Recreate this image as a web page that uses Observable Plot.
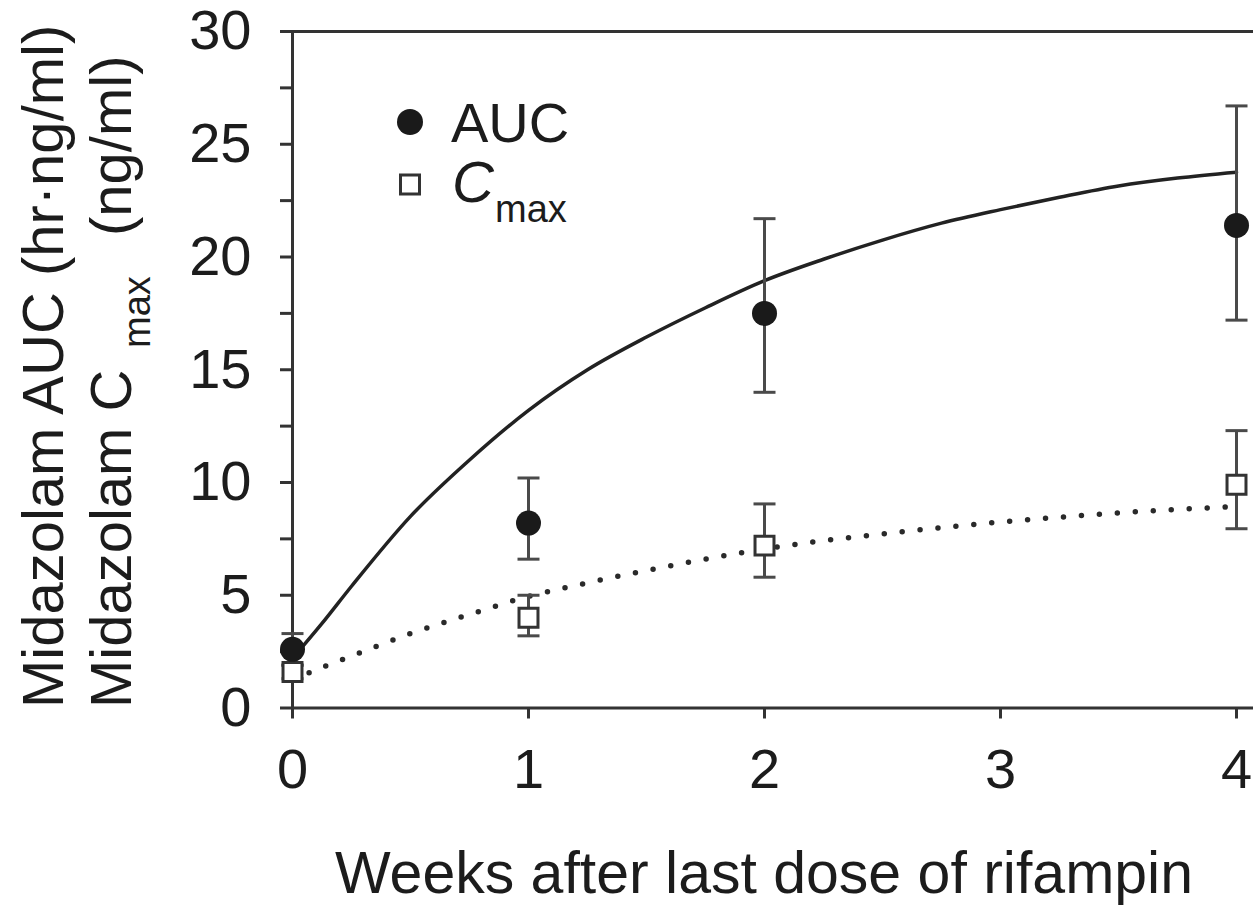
<!DOCTYPE html>
<html>
<head>
<meta charset="utf-8">
<script src="https://cdn.jsdelivr.net/npm/d3@7"></script>
<script src="https://cdn.jsdelivr.net/npm/@observablehq/plot@0.6"></script>
<style>
  html, body { margin: 0; padding: 0; background: #fff; }
  #chart { width: 1253px; height: 906px; overflow: hidden; }
</style>
</head>
<body>
<div id="chart"></div>
<script>
// ---- Data ----
const weeks = [0, 1, 2, 4];
const aucMean = [2.6, 8.2, 17.5, 21.4];
const aucLow = [1.9, 6.6, 14.0, 17.2];
const aucHigh = [3.3, 10.2, 21.7, 26.7];
const cmaxMean = [1.6, 4.0, 7.2, 9.9];
const cmaxLow = [1.3, 3.2, 5.8, 7.95];
const cmaxHigh = [1.9, 5.0, 9.05, 12.3];

const fitWeeks = [0, 0.125, 0.25, 0.5, 0.75, 1, 1.25, 1.5, 1.75, 2, 2.25, 2.5, 2.75, 3, 3.25, 3.5, 3.75, 4];
const aucFit = [2.2, 3.75, 5.4, 8.5, 11.0, 13.2, 15.0, 16.45, 17.75, 18.95, 19.9, 20.75, 21.5, 22.1, 22.65, 23.15, 23.5, 23.76];
const cmaxFit = [1.25, 1.8, 2.3, 3.3, 4.15, 4.95, 5.55, 6.1, 6.6, 7.05, 7.42, 7.72, 8.0, 8.25, 8.46, 8.65, 8.81, 8.93];

const xTicks = [0, 1, 2, 3, 4];
const yTicks = [0, 2.5, 5, 7.5, 10, 12.5, 15, 17.5, 20, 22.5, 25, 27.5, 30];
const xLabel = "Weeks after last dose of rifampin";
const yLabel1 = "Midazolam AUC (hr·ng/ml)";
const yLabel2 = ["Midazolam C", "max", "(ng/ml)"];
const legendLabels = ["AUC", "C", "max"];

// ---- Tables built from the arrays ----
const auc = weeks.map((w, i) => ({week: w, mean: aucMean[i], low: aucLow[i], high: aucHigh[i]}));
const cmax = weeks.map((w, i) => ({week: w, mean: cmaxMean[i], low: cmaxLow[i], high: cmaxHigh[i]}));
const fit = fitWeeks.map((w, i) => ({week: w, auc: aucFit[i], cmax: cmaxFit[i]}));
const caps = [...auc, ...cmax].flatMap(d => [{week: d.week, v: d.low}, {week: d.week, v: d.high}]);

const capSymbol = {
  draw(context, size) {
    const w = Math.sqrt(size / Math.PI);
    context.moveTo(-w, 0);
    context.lineTo(w, 0);
  }
};

const FONT = "'Liberation Sans', Arial, Helvetica, sans-serif";
const AX = "#333";
const TXT = "#1c1c1c";

const chart = Plot.plot({
  width: 1253,
  height: 906,
  marginLeft: 292,
  marginRight: 0,
  marginTop: 31,
  marginBottom: 198.5,
  x: {domain: [0, 4.072]},
  y: {domain: [0, 30]},
  style: {fontFamily: FONT, background: "#fff", color: TXT},
  marks: [
    Plot.axisX({ticks: xTicks, tickFormat: d => String(d), tickSize: 11, tickPadding: 29, fontSize: 56, label: null, stroke: AX, strokeWidth: 3, fill: TXT}),
    Plot.axisY({ticks: yTicks, tickFormat: d => d % 5 === 0 ? String(d) : "", tickSize: 12, tickPadding: 29, fontSize: 56, label: null, stroke: AX, strokeWidth: 3, fill: TXT}),
    Plot.ruleY([0, 30], {stroke: AX, strokeWidth: 3}),
    Plot.ruleX([0], {stroke: AX, strokeWidth: 3}),
    Plot.line(fit, {x: "week", y: "auc", curve: "monotone-x", stroke: "#222", strokeWidth: 3.5}),
    Plot.line(fit, {x: "week", y: "cmax", curve: "monotone-x", stroke: "#2a2a2a", strokeWidth: 5.5, strokeDasharray: "0 18", strokeLinecap: "round"}),
    Plot.ruleX(auc, {x: "week", y1: "low", y2: "high", stroke: "#4a4a4a", strokeWidth: 3}),
    Plot.ruleX(cmax, {x: "week", y1: "low", y2: "high", stroke: "#4a4a4a", strokeWidth: 3}),
    Plot.dot(caps, {x: "week", y: "v", symbol: capSymbol, r: 11, stroke: "#4a4a4a", strokeWidth: 3, fill: "none"}),
    Plot.dot(cmax, {x: "week", y: "mean", symbol: "square", r: 10.7, fill: "#fff", stroke: AX, strokeWidth: 3}),
    Plot.dot(auc, {x: "week", y: "mean", r: 12.5, fill: "#1a1a1a", stroke: "none"})
  ]
});

const svg = d3.select(chart);
const g = svg.append("g").attr("font-family", FONT).attr("fill", TXT).attr("text-anchor", "start");

// x axis title
g.append("text").attr("x", 764).attr("y", 893).attr("text-anchor", "middle")
  .attr("font-size", 59).text(xLabel);

// y axis titles (rotated)
g.append("text").attr("transform", "translate(63,708) rotate(-90)").attr("text-anchor", "start")
  .attr("font-size", 58).text(yLabel1);
g.append("text").attr("transform", "translate(131,708) rotate(-90)").attr("text-anchor", "start")
  .attr("font-size", 58).text(yLabel2[0]);
g.append("text").attr("transform", "translate(150,348) rotate(-90)").attr("text-anchor", "start")
  .attr("font-size", 38).text(yLabel2[1]);
g.append("text").attr("transform", "translate(131,236) rotate(-90)").attr("text-anchor", "start")
  .attr("font-size", 58).text(yLabel2[2]);

// legend
g.append("circle").attr("cx", 410).attr("cy", 122).attr("r", 13).attr("fill", "#1a1a1a");
g.append("rect").attr("x", 400.5).attr("y", 175).attr("width", 19).attr("height", 19)
  .attr("fill", "#fff").attr("stroke", AX).attr("stroke-width", 3);
g.append("text").attr("x", 451).attr("y", 142).attr("text-anchor", "start").attr("font-size", 56).text(legendLabels[0]);
g.append("text").attr("x", 452).attr("y", 202).attr("text-anchor", "start").attr("font-size", 58).attr("font-style", "italic").text(legendLabels[1]);
g.append("text").attr("x", 495).attr("y", 222).attr("text-anchor", "start").attr("font-size", 38).text(legendLabels[2]);

document.getElementById("chart").appendChild(chart);
</script>
</body>
</html>
